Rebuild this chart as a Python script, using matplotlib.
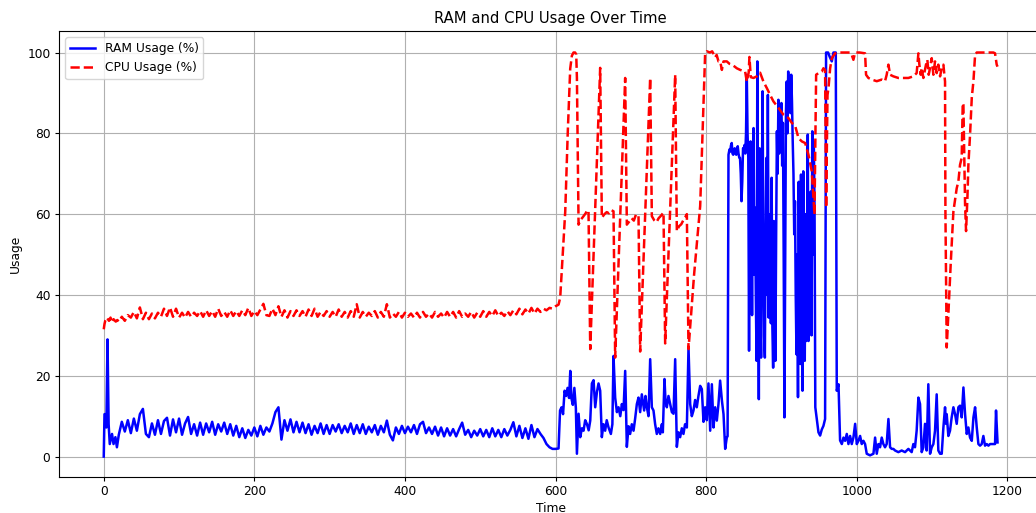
import numpy as np
import matplotlib.pyplot as plt

# ---- RAM usage (%) ----
ram_head_t = [0, 1, 2, 3.5, 5, 6.5, 8, 11, 13, 15.5, 17.5]
ram_head = [0.0, 10.5, 10.5, 7.2, 29.0, 8.0, 3.1, 5.6, 3.1, 4.8, 2.3]

# sampled every 4 steps, t = 20 .. 600
ram_steady = [
    5.4, 8.6, 6.2, 9.0, 5.8, 9.4, 6.4, 10.5, 11.8, 5.6,
    4.8, 8.2, 5.4, 9.0, 5.6, 8.8, 9.6, 5.2, 9.2, 6.0,
    9.4, 5.4, 8.2, 9.8, 5.6, 8.0, 5.2, 8.4, 5.4, 8.2,
    6.0, 8.6, 5.4, 8.0, 6.2, 8.4, 5.6, 8.0, 5.2, 7.6,
    4.8, 7.0, 4.6, 6.6, 5.2, 7.2, 5.0, 7.6, 5.4, 7.2,
    6.2, 8.2, 11.0, 12.2, 4.2, 9.0, 6.4, 9.2, 6.0, 8.6,
    6.0, 8.4, 5.8, 8.0, 5.4, 7.6, 5.8, 8.2, 5.6, 7.8,
    5.6, 7.8, 6.2, 8.0, 5.8, 7.6, 6.0, 8.2, 5.6, 7.8,
    5.8, 8.0, 5.6, 7.4, 6.0, 7.8, 5.4, 7.6, 6.0, 8.9,
    5.4, 4.0, 7.2, 5.6, 7.6, 5.8, 7.4, 6.0, 7.8, 5.6,
    8.0, 8.6, 5.8, 7.2, 5.6, 7.4, 5.2, 7.2, 5.0, 7.0,
    5.2, 6.8, 5.0, 6.8, 8.4, 5.4, 6.6, 4.8, 6.4, 5.2,
    6.8, 5.0, 6.6, 4.8, 7.0, 5.0, 6.6, 4.8, 6.8, 5.2,
    6.6, 8.5, 5.0, 7.6, 4.6, 7.0, 4.4, 7.8, 4.8, 6.8,
    5.6, 4.6, 3.1, 2.3, 1.9, 1.9,
]

ram_rise_t = [
    604, 606, 608, 610, 612, 614, 616, 618, 619.6, 621, 623, 625, 627, 628.4,
    630.6, 632.8, 635, 637.2, 639.4, 641.6, 644, 646.1, 648.3, 650.5, 652.7,
    655, 657.1, 659.3, 661.5, 663.7, 665.9, 668, 670.4, 673.5, 675.5, 677,
    679.2, 681.5, 683.7, 686, 688.1, 690.3, 692.5, 694.7, 697, 699.1, 701.3,
    703.6, 705.8, 708, 710.2, 712.4, 714.6, 717.7, 719.5, 721.3, 723.5, 725.7,
    727.9, 730.1, 732.3, 734.5, 736.7, 739, 741.2, 742.5, 744.7, 746, 747.8,
    750, 752.3, 754.5, 756.7, 758.9, 761.1, 763.3, 765.5, 767.7, 769.9, 772,
    774.4, 776.6, 778.8, 781, 783.2, 785.4, 787.6, 789.8, 792.1, 794.3, 796.5,
    798.7, 800.9, 803.1, 805.4, 807.6, 809.8, 812, 814.2, 816.4, 818.6, 821,
    823.1, 825.3, 827.5, 828.5, 829.7, 831, 832, 833, 834, 835, 836, 837, 838,
    839, 840, 841, 842, 843, 844, 845, 846, 847, 848, 849, 850, 851, 852, 853,
    854,
]
ram_rise = [
    2.0, 11.4, 12.2, 10.5, 16.3, 15.0, 17.0, 14.5, 21.2, 14.5, 12.8, 17.0, 12.0, 0.7,
    10.6, 4.8, 7.0, 6.4, 9.0, 8.1, 6.5, 8.9, 18.1, 18.9, 12.2,
    16.0, 18.1, 16.3, 4.8, 8.0, 6.4, 9.0, 7.2, 5.6, 8.0, 24.9,
    14.6, 11.0, 12.2, 10.0, 13.0, 11.5, 21.2, 2.4, 7.5, 5.6, 8.0,
    6.4, 9.5, 13.0, 14.6, 11.0, 15.4, 11.4, 15.0, 12.2, 10.0, 24.1,
    12.2, 11.4, 8.0, 5.6, 7.0, 5.6, 8.0, 6.0, 19.2, 14.0, 12.2,
    15.0, 13.0, 11.0, 10.6, 24.1, 2.4, 6.0, 4.8, 7.0, 5.6, 8.0,
    7.2, 27.0, 13.0, 10.0, 11.4, 14.0, 12.2, 15.0, 17.5, 16.7, 8.6,
    12.2, 9.0, 18.1, 6.4, 17.9, 7.2, 12.2, 8.9, 13.0, 18.8, 13.8,
    10.5, 1.9, 4.8, 5.0, 74.7, 76.0, 75.5, 77.0, 77.6, 75.0, 74.7, 76.0, 76.3,
    75.0, 74.7, 76.0, 76.8, 75.0, 74.0, 73.9, 70.0, 63.2, 68.0, 76.3, 76.0, 77.1, 75.0, 80.0,
    94.5,
]

# one sample per step, t = 855 .. 945
ram_burst = [
    80.0, 73.9, 26.2, 74.7, 78.0, 63.2, 35.0, 70.0, 81.3, 45.0,
    61.6, 40.0, 23.7, 97.8, 60.0, 14.2, 76.3, 40.0, 24.5, 65.0,
    90.4, 50.0, 30.0, 24.5, 55.0, 73.9, 40.0, 89.5, 34.4, 60.0,
    59.1, 33.0, 69.0, 31.9, 22.0, 58.3, 40.0, 23.7, 55.0, 80.5,
    70.0, 88.3, 75.0, 78.0, 84.0, 87.5, 72.0, 82.6, 50.0, 9.7,
    50.0, 85.0, 92.8, 80.0, 95.3, 88.0, 92.0, 85.0, 94.5, 88.0,
    78.0, 70.0, 55.0, 63.2, 40.0, 25.3, 50.0, 14.7, 68.0, 30.0,
    22.9, 69.8, 40.0, 16.3, 70.6, 45.0, 23.7, 60.0, 28.6, 55.0,
    79.7, 28.6, 60.0, 45.1, 65.6, 30.0, 80.5, 50.0, 78.0, 61.6,
    12.2,
]

ram_late_t = [
    947, 949.2, 951.4, 953.6, 955.8, 958, 959.3, 962, 964, 966.9, 969.1, 972.2,
    973.5, 975.8, 977.9, 980.2, 982.4, 984.6, 986.8, 989, 991.2, 993.4, 995.6,
    997.9, 1000.1, 1002.3, 1004.5, 1006.7, 1008.9, 1011.1, 1013.3, 1017.7,
    1022.2, 1024.4, 1026.6, 1028.8, 1031, 1033.2, 1035.4, 1037.6, 1039.8,
    1042.1, 1044.3, 1046.5, 1048.7, 1050.9, 1055.3, 1059.7, 1064.2, 1068.6,
    1073, 1075.2, 1077.4, 1079.6, 1081.9, 1084.1, 1086.3, 1088.5, 1090.7,
    1092.9, 1095.1, 1097.4, 1099.6, 1101.8, 1104, 1106.2, 1108.4, 1110.7,
    1112.9, 1115.1, 1117.3, 1118.6, 1119.5, 1121.7, 1123.9, 1126.1, 1128.4,
    1130.6, 1132.8, 1135, 1137.2, 1139.4, 1141.7, 1143.9, 1146.1, 1148.3,
    1150.5, 1152.8, 1155, 1157.2, 1159.4, 1161.6, 1163.8, 1166, 1168.2,
    1170.4, 1172.7, 1174.9, 1177.1, 1179.3, 1181.5, 1183.7, 1185, 1187,
]
ram_late = [
    9.3, 6.0, 5.2, 6.7, 7.6, 9.3, 100.0, 100.0, 99.0, 97.8, 100.0, 100.0,
    16.3, 17.9, 4.0, 3.1, 4.7, 3.9, 5.6, 3.1, 5.1, 3.1, 4.7,
    8.1, 3.1, 3.9, 5.1, 3.1, 3.9, 3.1, 0.7, 0.3,
    0.7, 4.7, 0.7, 3.1, 2.3, 4.7, 3.1, 2.3, 3.1,
    9.3, 2.3, 1.9, 1.9, 1.5, 1.1, 1.5, 1.1, 1.9,
    1.1, 3.1, 2.3, 6.4, 14.6, 13.0, 1.1, 2.3, 8.1,
    1.5, 17.9, 0.7, 2.3, 3.1, 6.4, 15.4, 1.5, 0.7,
    0.7, 7.2, 12.2, 8.1, 10.5, 5.1, 6.4, 9.7, 12.2,
    10.5, 8.1, 12.2, 12.6, 9.7, 17.1, 10.5, 5.6, 7.2,
    4.7, 3.9, 9.7, 12.2, 7.2, 3.1, 2.7, 3.1, 5.1,
    2.7, 3.1, 2.7, 3.1, 3.1, 3.1, 3.1, 11.4, 3.5,
]

# ---- CPU usage (%) ----
cpu_head_t = [0, 1, 2, 4, 7, 9, 11, 13, 16, 18]
cpu_head = [31.5, 32.8, 33.6, 34.4, 33.6, 34.4, 33.2, 34.0, 33.4, 33.8]

# sampled every 4 steps, t = 20 .. 600
cpu_steady = [
    33.4, 34.6, 33.6, 35.0, 34.4, 35.8, 34.2, 36.9, 34.0, 35.6,
    34.0, 35.4, 34.2, 35.6, 34.6, 36.6, 34.8, 36.9, 34.6, 36.6,
    34.4, 35.6, 34.4, 35.8, 34.6, 35.6, 34.8, 36.0, 34.6, 36.2,
    34.8, 36.0, 34.6, 36.6, 34.8, 35.8, 34.6, 36.2, 34.8, 36.0,
    34.8, 36.2, 35.0, 36.8, 34.8, 36.0, 35.0, 36.4, 37.8, 35.0,
    34.8, 36.6, 35.0, 37.2, 34.6, 36.2, 34.4, 36.0, 34.8, 36.2,
    34.8, 36.0, 34.6, 36.4, 34.8, 36.6, 34.6, 35.8, 34.8, 36.0,
    34.6, 35.8, 34.6, 36.4, 34.6, 35.8, 34.4, 36.0, 34.6, 37.7,
    34.4, 35.8, 34.6, 35.6, 34.8, 36.0, 34.4, 35.8, 34.6, 37.7,
    34.4, 35.4, 34.6, 35.8, 34.4, 35.6, 34.6, 35.4, 34.4, 35.6,
    34.4, 35.8, 34.6, 35.4, 34.4, 35.8, 34.6, 35.4, 34.4, 35.8,
    34.6, 35.8, 34.4, 36.0, 34.6, 35.4, 34.6, 35.8, 34.4, 35.6,
    34.6, 36.0, 34.6, 35.8, 34.8, 36.2, 34.8, 35.6, 34.8, 36.0,
    35.0, 36.2, 35.2, 36.6, 35.2, 36.4, 35.4, 36.8, 35.4, 36.6,
    35.8, 36.6, 36.2, 36.8, 36.6, 37.2,
]

cpu_tail_t = [
    604, 606.2, 609.5, 612.9, 616.2, 619.5, 621.7, 623.9, 626, 627.5, 628.4,
    630.6, 633, 636, 640, 642, 643.8, 646.1, 659.3, 661.5, 665, 668, 671, 674,
    677, 679.2, 692.5, 694.7, 698, 701, 704, 707, 710.2, 712.4, 725.7, 727.9,
    731, 734, 737, 740, 743.4, 745.6, 758.9, 761.1, 764, 767, 770, 773, 774.4,
    776.6, 784, 792.1, 798.7, 801, 805, 808, 810, 812, 814, 816.4, 818.7,
    820.9, 823.1, 827.5, 831, 834.1, 838, 840.7, 845.2, 848, 851.8, 854,
    856.5, 857.5, 859.3, 862.9, 867.3, 871.7, 876.1, 880.6, 885, 889.4, 896,
    902.7, 909.3, 913.7, 918.2, 922.7, 927.1, 931.5, 935.9, 940.3, 942.6,
    943.9, 946.1, 949.2, 953.6, 955.8, 958, 959.4, 961.2, 962.5, 964.7, 966.9,
    971.3, 977.9, 985, 991.2, 993.4, 995.6, 997.9, 1004, 1011.1, 1012.4,
    1015.5, 1020, 1026.6, 1033.2, 1037.6, 1039.8, 1042.1, 1044.3, 1048.7,
    1055.3, 1062, 1068.6, 1075.2, 1079.6, 1081.9, 1083.2, 1085, 1086.3, 1088.5,
    1092, 1093.8, 1095.6, 1097.4, 1099.6, 1101.8, 1104, 1106.2, 1108.4,
    1110.7, 1112.9, 1115.1, 1117.3, 1117.8, 1119.5, 1121.7, 1124.8, 1128.4,
    1132.8, 1135, 1137.2, 1139.4, 1140.8, 1141.7, 1142.6, 1143.9, 1145.2, 1147,
    1148.3, 1150.5, 1152.8, 1155, 1157.2, 1159.4, 1170, 1181.5, 1183.7, 1185.9,
    1187,
]
cpu_tail = [
    37.6, 39.3, 50.0, 60.7, 80.0, 96.0, 99.2, 100.0, 100.0, 99.5, 93.7,
    57.4, 58.5, 59.2, 60.2, 61.0, 60.7, 26.6, 96.2, 59.1, 60.0, 60.5, 60.2, 61.0,
    60.7, 24.5, 93.7, 57.4, 58.2, 59.0, 58.4, 60.0, 59.5, 26.0, 93.7, 59.5,
    58.5, 58.0, 59.0, 59.6, 60.4, 28.0, 94.5, 55.8, 57.0, 57.5, 58.6, 59.5, 60.0,
    26.6, 45.0, 62.0, 99.8, 100.3, 100.0, 100.3, 99.6, 98.8, 99.4, 97.8, 97.8,
    95.7, 97.8, 97.8, 97.2, 97.0, 96.5, 96.1, 95.7, 95.5, 95.3, 92.8,
    95.0, 98.9, 93.9, 93.7, 94.1, 95.0, 92.8, 91.2, 89.5, 87.9, 86.3,
    84.6, 83.8, 82.6, 81.9, 78.8, 78.0, 77.6, 74.7, 70.6, 64.0,
    59.9, 94.5, 94.9, 95.3, 96.1, 95.7, 61.6, 89.5, 91.2, 96.1, 98.6,
    99.8, 100.0, 100.0, 100.0, 99.4, 98.2, 100.0, 100.0, 99.8, 94.5,
    93.7, 93.3, 92.9, 93.3, 92.9, 94.5, 97.0, 94.5, 94.1,
    93.7, 93.7, 93.7, 94.1, 94.9, 99.8, 97.0, 94.5, 96.2, 93.7,
    97.0, 98.2, 94.5, 96.2, 98.6, 94.5, 97.8, 94.9, 97.0,
    94.1, 96.2, 97.0, 92.8, 60.7, 27.0, 35.2, 47.6, 60.7,
    66.4, 68.1, 72.2, 73.9, 87.5, 87.0, 76.3, 62.4, 55.8, 64.0,
    72.2, 79.6, 88.8, 92.9, 99.4, 100.0, 100.0, 100.0, 99.8, 97.0,
    96.5,
]

ram_t = np.concatenate([ram_head_t, np.arange(20, 601, 4), ram_rise_t,
                        np.arange(855, 946), ram_late_t])
ram = np.concatenate([ram_head, ram_steady, ram_rise, ram_burst, ram_late])
cpu_t = np.concatenate([cpu_head_t, np.arange(20, 601, 4), cpu_tail_t])
cpu = np.concatenate([cpu_head, cpu_steady, cpu_tail])

plt.rcParams['font.size'] = 8.85
plt.rcParams['xtick.major.size'] = 3.1
plt.rcParams['ytick.major.size'] = 3.1
plt.rcParams['xtick.major.pad'] = 3.1
plt.rcParams['ytick.major.pad'] = 3.1

fig = plt.figure(figsize=(10.36, 5.13), dpi=100)
ax = fig.add_axes([0.057, 0.0705, 0.949, 0.869])
ax.plot(ram_t, ram, color='blue', linewidth=1.8, label='RAM Usage (%)')
ax.plot(cpu_t, cpu, color='red', linestyle='--', linewidth=1.8, label='CPU Usage (%)')
ax.set_title('RAM and CPU Usage Over Time', fontsize=10.6)
ax.set_xlabel('Time', labelpad=2.5)
ax.set_ylabel('Usage', labelpad=3.5)
ax.grid(True)
ax.legend(loc='upper left')
fig.savefig('out.png', dpi=100)
